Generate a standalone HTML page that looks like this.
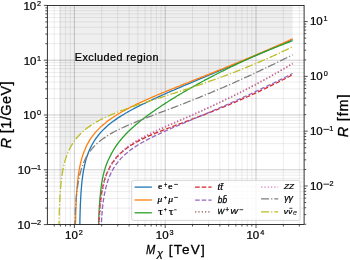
<!DOCTYPE html>
<html><head><meta charset="utf-8"><style>
html,body{margin:0;padding:0;background:#fff;}
svg{display:block;will-change:transform;font-family:"Liberation Sans",sans-serif;}
</style></head><body>
<svg width="350" height="260" viewBox="0 0 350 260">
<defs><clipPath id="ax"><rect x="47.2" y="5.40" width="257.10" height="219.20"/></clipPath></defs>
<rect width="350" height="260" fill="#fff"/>
<path d="M59.2,224.6 59.2,217.8 59.5,207.5 59.8,200.3 60.1,194.9 60.4,190.5 60.7,186.8 61.0,183.6 61.3,180.8 61.6,178.3 61.9,176.0 62.2,174.0 62.6,172.1 62.9,170.3 63.2,168.7 63.5,167.2 63.8,165.8 64.1,164.5 64.4,163.3 64.7,162.2 65.0,161.1 65.3,160.0 65.6,159.0 65.9,158.1 66.2,157.1 66.5,156.3 66.9,155.4 67.2,154.6 67.5,153.8 67.8,153.1 68.1,152.4 68.4,151.7 68.7,151.0 69.0,150.3 69.3,149.7 69.6,149.1 69.9,148.4 70.2,147.9 70.5,147.3 70.8,146.7 71.2,146.2 71.5,145.6 71.8,145.1 72.1,144.6 72.4,144.1 72.7,143.6 73.0,143.1 73.3,142.6 73.6,142.2 73.9,141.7 74.2,141.3 74.5,140.8 74.8,140.4 75.1,140.0 75.5,139.6 75.8,139.2 76.1,138.8 76.4,138.4 76.7,138.0 77.0,137.7 77.3,137.3 77.6,136.9 77.9,136.6 78.2,136.2 78.5,135.9 78.8,135.6 79.1,135.2 79.4,134.9 79.8,134.6 80.1,134.3 80.4,134.0 80.7,133.7 81.0,133.4 81.3,133.1 81.6,132.8 81.9,132.5 82.2,132.2 82.5,131.9 82.8,131.6 83.1,131.4 83.4,131.1 83.7,130.8 84.1,130.6 84.4,130.3 84.7,130.0 85.0,129.8 85.3,129.5 85.6,129.3 85.9,129.0 86.2,128.8 86.5,128.6 86.8,128.3 87.1,128.1 87.4,127.9 87.7,127.6 88.0,127.4 88.4,127.2 88.7,127.0 89.0,126.7 89.3,126.5 89.6,126.3 89.9,126.1 90.2,125.9 90.5,125.7 90.8,125.5 91.1,125.3 91.4,125.1 91.7,124.9 92.0,124.7 92.3,124.5 92.7,124.3 93.0,124.1 93.3,123.9 93.6,123.7 93.9,123.5 94.2,123.3 94.5,123.1 94.8,122.9 95.1,122.8 95.4,122.6 95.7,122.4 96.0,122.2 96.3,122.0 96.6,121.9 97.0,121.7 97.3,121.5 97.6,121.4 97.9,121.2 98.2,121.0 98.5,120.8 98.8,120.7 99.1,120.5 99.4,120.3 99.7,120.2 100.0,120.0 100.3,119.9 100.6,119.7 100.9,119.5 101.3,119.4 101.6,119.2 101.9,119.1 102.2,118.9 102.5,118.8 102.8,118.6 103.1,118.5 103.4,118.3 103.7,118.2 104.0,118.0 104.3,117.9 104.6,117.7 104.9,117.6 105.2,117.4 105.6,117.3 105.9,117.1 106.2,117.0 106.5,116.9 106.8,116.7 107.1,116.6 107.4,116.4 107.7,116.3 108.0,116.2 108.3,116.0 108.6,115.9 108.9,115.7 109.2,115.6 109.5,115.5 109.9,115.3 110.2,115.2 110.5,115.1 110.8,114.9 111.1,114.8 111.4,114.7 111.7,114.5 112.0,114.4 112.3,114.3 112.6,114.2 112.9,114.0 113.2,113.9 113.5,113.8 113.8,113.6 114.2,113.5 114.5,113.4 114.8,113.3 115.1,113.1 115.4,113.0 115.7,112.9 116.0,112.8 116.3,112.7 116.6,112.5 116.9,112.4 117.2,112.3 117.5,112.2 117.8,112.0 118.1,111.9 118.5,111.8 118.8,111.7 119.1,111.6 119.4,111.4 119.7,111.3 120.0,111.2 120.3,111.1 120.6,111.0 120.9,110.9 121.2,110.7 121.5,110.6 121.8,110.5 122.1,110.4 122.4,110.3 122.8,110.2 123.1,110.1 123.4,109.9 123.7,109.8 124.0,109.7 124.3,109.6 124.6,109.5 124.9,109.4 125.2,109.3 125.5,109.2 125.8,109.0 126.1,108.9 126.4,108.8 126.7,108.7 127.1,108.6 127.4,108.5 127.7,108.4 128.0,108.3 128.3,108.2 128.6,108.1 128.9,107.9 129.2,107.8 129.5,107.7 129.8,107.6 130.1,107.5 130.4,107.3 130.7,107.2 131.0,107.0 131.4,106.9 131.7,106.7 132.0,106.5 132.3,106.4 132.6,106.2 132.9,106.1 133.2,105.9 133.5,105.8 133.8,105.6 134.1,105.5 134.4,105.3 134.7,105.2 135.0,105.0 135.3,104.9 135.7,104.7 136.0,104.6 136.3,104.4 136.6,104.3 136.9,104.2 137.2,104.0 137.5,103.9 137.8,103.7 138.1,103.6 138.4,103.4 138.7,103.3 139.0,103.1 139.3,103.0 139.6,102.8 140.0,102.7 140.3,102.6 140.6,102.4 140.9,102.3 141.2,102.1 141.5,102.0 141.8,101.9 142.1,101.7 142.4,101.6 142.7,101.4 143.0,101.3 143.3,101.2 143.6,101.0 143.9,100.9 144.3,100.7 144.6,100.6 144.9,100.5 145.2,100.3 145.5,100.2 145.8,100.0 146.1,99.9 146.4,99.8 146.7,99.6 147.0,99.5 147.3,99.4 147.6,99.2 147.9,99.1 148.2,99.0 148.6,98.8 148.9,98.7 149.2,98.5 149.5,98.4 149.8,98.3 150.1,98.1 150.4,98.0 150.7,97.9 151.0,97.7 151.3,97.6 151.6,97.5 151.9,97.3 152.2,97.2 152.5,97.1 152.9,96.9 153.2,96.8 153.5,96.7 153.8,96.5 154.1,96.4 154.4,96.3 154.7,96.2 155.0,96.0 155.3,95.9 155.6,95.8 155.9,95.6 156.2,95.5 156.5,95.4 156.8,95.2 157.2,95.1 157.5,95.0 157.8,94.8 158.1,94.7 158.4,94.6 158.7,94.5 159.0,94.3 159.3,94.2 159.6,94.1 159.9,93.9 160.2,93.8 160.5,93.7 160.8,93.6 161.1,93.4 161.5,93.3 161.8,93.2 162.1,93.0 162.4,92.9 162.7,92.8 163.0,92.7 163.3,92.5 163.6,92.4 163.9,92.3 164.2,92.2 164.5,92.0 164.8,91.9 165.1,91.8 165.4,91.6 165.8,91.5 166.1,91.4 166.4,91.3 166.7,91.1 167.0,91.0 167.3,90.9 167.6,90.8 167.9,90.6 168.2,90.5 168.5,90.4 168.8,90.3 169.1,90.1 169.4,90.0 169.7,89.9 170.1,89.8 170.4,89.6 170.7,89.5 171.0,89.4 171.3,89.3 171.6,89.1 171.9,89.0 172.2,88.9 172.5,88.8 172.8,88.6 173.1,88.5 173.4,88.4 173.7,88.3 174.0,88.1 174.4,88.0 174.7,87.9 175.0,87.8 175.3,87.6 175.6,87.5 175.9,87.4 176.2,87.3 176.5,87.1 176.8,87.0 177.1,86.9 177.4,86.8 177.7,86.6 178.0,86.5 178.3,86.4 178.7,86.3 179.0,86.2 179.3,86.0 179.6,85.9 179.9,85.8 180.2,85.7 180.5,85.5 180.8,85.4 181.1,85.3 181.4,85.2 181.7,85.0 182.0,84.9 182.3,84.8 182.6,84.7 183.0,84.5 183.3,84.4 183.6,84.3 183.9,84.2 184.2,84.1 184.5,83.9 184.8,83.8 185.1,83.7 185.4,83.6 185.7,83.4 186.0,83.3 186.3,83.2 186.6,83.1 186.9,83.0 187.3,82.8 187.6,82.7 187.9,82.6 188.2,82.5 188.5,82.3 188.8,82.2 189.1,82.1 189.4,82.0 189.7,81.9 190.0,81.7 190.3,81.6 190.6,81.5 190.9,81.4 191.2,81.2 191.6,81.1 191.9,81.0 192.2,80.9 192.5,80.7 192.8,80.6 193.1,80.5 193.4,80.4 193.7,80.3 194.0,80.1 194.3,80.0 194.6,79.9 194.9,79.8 195.2,79.6 195.5,79.5 195.9,79.4 196.2,79.3 196.5,79.2 196.8,79.0 197.1,78.9 197.4,78.8 197.7,78.7 198.0,78.6 198.3,78.4 198.6,78.3 198.9,78.2 199.2,78.1 199.5,77.9 199.8,77.8 200.2,77.7 200.5,77.6 200.8,77.5 201.1,77.3 201.4,77.2 201.7,77.1 202.0,77.0 202.3,76.8 202.6,76.7 202.9,76.6 203.2,76.5 203.5,76.4 203.8,76.2 204.1,76.1 204.5,76.0 204.8,75.9 205.1,75.7 205.4,75.6 205.7,75.5 206.0,75.4 206.3,75.2 206.6,75.1 206.9,75.0 207.2,74.9 207.5,74.8 207.8,74.6 208.1,74.5 208.4,74.4 208.8,74.3 209.1,74.1 209.4,74.0 209.7,73.9 210.0,73.8 210.3,73.7 210.6,73.5 210.9,73.4 211.2,73.3 211.5,73.2 211.8,73.0 212.1,72.9 212.4,72.8 212.7,72.7 213.1,72.6 213.4,72.4 213.7,72.3 214.0,72.2 214.3,72.1 214.6,71.9 214.9,71.8 215.2,71.7 215.5,71.6 215.8,71.4 216.1,71.3 216.4,71.2 216.7,71.1 217.0,71.0 217.4,70.8 217.7,70.7 218.0,70.6 218.3,70.5 218.6,70.3 218.9,70.2 219.2,70.1 219.5,70.0 219.8,69.8 220.1,69.7 220.4,69.6 220.7,69.5 221.0,69.3 221.3,69.2 221.7,69.1 222.0,69.0 222.3,68.9 222.6,68.7 222.9,68.6 223.2,68.5 223.5,68.4 223.8,68.2 224.1,68.1 224.4,68.0 224.7,67.9 225.0,67.7 225.3,67.6 225.6,67.5 226.0,67.4 226.3,67.2 226.6,67.1 226.9,67.0 227.2,66.9 227.5,66.7 227.8,66.6 228.1,66.5 228.4,66.4 228.7,66.2 229.0,66.1 229.3,66.0 229.6,65.9 229.9,65.7 230.3,65.6 230.6,65.5 230.9,65.4 231.2,65.2 231.5,65.1 231.8,65.0 232.1,64.9 232.4,64.7 232.7,64.6 233.0,64.5 233.3,64.4 233.6,64.2 233.9,64.1 234.2,64.0 234.6,63.9 234.9,63.7 235.2,63.6 235.5,63.5 235.8,63.4 236.1,63.2 236.4,63.1 236.7,63.0 237.0,62.9 237.3,62.7 237.6,62.6 237.9,62.5 238.2,62.4 238.5,62.2 238.9,62.1 239.2,62.0 239.5,61.8 239.8,61.7 240.1,61.6 240.4,61.5 240.7,61.3 241.0,61.2 241.3,61.1 241.6,61.0 241.9,60.8 242.2,60.7 242.5,60.6 242.8,60.5 243.2,60.3 243.5,60.2 243.8,60.1 244.1,59.9 244.4,59.8 244.7,59.7 245.0,59.6 245.3,59.4 245.6,59.3 245.9,59.2 246.2,59.0 246.5,58.9 246.8,58.8 247.1,58.7 247.5,58.5 247.8,58.4 248.1,58.3 248.4,58.2 248.7,58.0 249.0,57.9 249.3,57.8 249.6,57.6 249.9,57.5 250.2,57.4 250.5,57.3 250.8,57.1 251.1,57.0 251.4,56.9 251.8,56.7 252.1,56.6 252.4,56.5 252.7,56.3 253.0,56.2 253.3,56.1 253.6,56.0 253.9,55.8 254.2,55.7 254.5,55.6 254.8,55.4 255.1,55.3 255.4,55.2 255.7,55.0 256.1,54.9 256.4,54.8 256.7,54.7 257.0,54.5 257.3,54.4 257.6,54.3 257.9,54.1 258.2,54.0 258.5,53.9 258.8,53.7 259.1,53.6 259.4,53.5 259.7,53.3 260.0,53.2 260.4,53.1 260.7,53.0 261.0,52.8 261.3,52.7 261.6,52.6 261.9,52.4 262.2,52.3 262.5,52.2 262.8,52.0 263.1,51.9 263.4,51.8 263.7,51.6 264.0,51.5 264.3,51.4 264.7,51.2 265.0,51.1 265.3,51.0 265.6,50.8 265.9,50.7 266.2,50.6 266.5,50.4 266.8,50.3 267.1,50.2 267.4,50.0 267.7,49.9 268.0,49.8 268.3,49.6 268.6,49.5 269.0,49.4 269.3,49.2 269.6,49.1 269.9,49.0 270.2,48.8 270.5,48.7 270.8,48.6 271.1,48.4 271.4,48.3 271.7,48.2 272.0,48.0 272.3,47.9 272.6,47.8 272.9,47.6 273.3,47.5 273.6,47.4 273.9,47.2 274.2,47.1 274.5,46.9 274.8,46.8 275.1,46.7 275.4,46.5 275.7,46.4 276.0,46.3 276.3,46.1 276.6,46.0 276.9,45.9 277.2,45.7 277.6,45.6 277.9,45.5 278.2,45.3 278.5,45.2 278.8,45.0 279.1,44.9 279.4,44.8 279.7,44.6 280.0,44.5 280.3,44.4 280.6,44.2 280.9,44.1 281.2,43.9 281.5,43.8 281.9,43.7 282.2,43.5 282.5,43.4 282.8,43.3 283.1,43.1 283.4,43.0 283.7,42.8 284.0,42.7 284.3,42.6 284.6,42.4 284.9,42.3 285.2,42.1 285.5,42.0 285.8,41.9 286.2,41.7 286.5,41.6 286.8,41.4 287.1,41.3 287.4,41.2 287.7,41.0 288.0,40.9 288.3,40.7 288.6,40.6 288.9,40.5 289.2,40.3 289.5,40.2 289.8,40.0 290.1,39.9 290.5,39.8 290.8,39.6 291.1,39.5 291.4,39.3 291.7,39.2 292.0,39.1 292.3,38.9 292.6,38.8 292.6,5.4 59.2,5.4Z" fill="#efefef"/>
<path d="M54.26,5.40V224.60M60.33,5.40V224.60M65.60,5.40V224.60M70.25,5.40V224.60M101.73,5.40V224.60M117.72,5.40V224.60M129.07,5.40V224.60M137.87,5.40V224.60M145.06,5.40V224.60M151.13,5.40V224.60M156.40,5.40V224.60M161.05,5.40V224.60M192.53,5.40V224.60M208.52,5.40V224.60M219.87,5.40V224.60M228.67,5.40V224.60M235.86,5.40V224.60M241.93,5.40V224.60M247.20,5.40V224.60M251.85,5.40V224.60M283.33,5.40V224.60M299.32,5.40V224.60M47.20,208.10H304.30M47.20,198.45H304.30M47.20,191.61H304.30M47.20,186.30H304.30M47.20,181.96H304.30M47.20,178.29H304.30M47.20,175.11H304.30M47.20,172.31H304.30M47.20,153.30H304.30M47.20,143.65H304.30M47.20,136.81H304.30M47.20,131.50H304.30M47.20,127.16H304.30M47.20,123.49H304.30M47.20,120.31H304.30M47.20,117.51H304.30M47.20,98.50H304.30M47.20,88.85H304.30M47.20,82.01H304.30M47.20,76.70H304.30M47.20,72.36H304.30M47.20,68.69H304.30M47.20,65.51H304.30M47.20,62.71H304.30M47.20,43.70H304.30M47.20,34.05H304.30M47.20,27.21H304.30M47.20,21.90H304.30M47.20,17.56H304.30M47.20,13.89H304.30M47.20,10.71H304.30M47.20,7.91H304.30" stroke="rgba(0,0,0,0.075)" stroke-width="1" fill="none"/><path d="M74.40,5.40V224.60M165.20,5.40V224.60M256.00,5.40V224.60M47.20,169.80H304.30M47.20,115.00H304.30M47.20,60.20H304.30" stroke="rgba(0,0,0,0.2)" stroke-width="1" fill="none"/>
<g clip-path="url(#ax)" fill="none" stroke-width="1.3" stroke-linejoin="round">
<path d="M79.8,228.6 79.8,226.7 79.8,224.8 79.9,222.9 79.9,221.0 79.9,219.1 80.0,217.2 80.0,215.3 80.1,213.4 80.1,211.5 80.2,209.6 80.3,207.7 80.3,205.9 80.4,204.0 80.5,202.1 80.6,200.2 80.7,198.3 80.8,196.4 80.9,194.5 81.0,192.6 81.2,190.7 81.3,188.8 81.5,186.9 81.6,185.1 81.8,183.2 82.0,181.3 82.2,179.4 82.5,177.5 82.7,175.6 83.0,173.8 83.3,171.9 83.6,170.0 84.0,168.1 84.4,166.3 84.8,164.4 85.2,162.6 85.7,160.7 86.2,158.9 86.8,157.0 87.4,155.2 88.2,153.0 88.7,151.8 89.2,150.6 89.7,149.5 90.6,147.4 91.6,145.5 92.6,143.7 93.6,142.0 94.6,140.4 95.5,139.0 96.5,137.6 97.5,136.3 98.5,135.0 99.5,133.8 100.4,132.7 101.4,131.6 102.4,130.6 103.4,129.6 104.4,128.7 105.4,127.7 106.3,126.8 107.3,126.0 108.3,125.1 109.3,124.3 110.3,123.5 111.2,122.8 112.2,122.0 113.2,121.3 114.2,120.6 115.2,119.9 116.6,118.9 118.1,117.9 119.6,116.9 121.0,116.0 122.5,115.1 124.0,114.2 125.4,113.3 126.9,112.5 128.4,111.6 129.9,110.8 131.3,110.0 132.8,109.2 134.3,108.4 135.7,107.7 137.2,106.9 138.7,106.2 140.2,105.4 141.6,104.7 143.1,104.0 144.6,103.3 146.0,102.6 147.5,101.8 149.0,101.2 150.4,100.5 151.9,99.8 153.4,99.1 154.9,98.4 156.3,97.8 157.8,97.1 159.3,96.4 160.7,95.8 162.2,95.1 163.7,94.5 165.2,93.8 166.6,93.2 168.1,92.5 169.6,91.9 171.0,91.2 172.5,90.6 174.0,90.0 175.4,89.3 176.9,88.7 178.4,88.1 179.9,87.4 181.3,86.8 182.8,86.2 184.3,85.5 185.7,84.9 187.2,84.3 188.7,83.7 190.2,83.1 191.6,82.4 193.1,81.8 194.6,81.2 196.0,80.6 197.5,79.9 199.0,79.3 200.4,78.7 201.9,78.1 203.4,77.5 204.9,76.9 206.3,76.2 207.8,75.6 209.3,75.0 210.7,74.4 212.2,73.8 213.7,73.2 215.2,72.5 216.6,71.9 218.1,71.3 219.6,70.7 221.0,70.1 222.5,69.5 224.0,68.8 225.4,68.2 226.9,67.6 228.4,67.0 229.9,66.4 231.3,65.7 232.8,65.1 234.3,64.5 235.7,63.9 237.2,63.3 238.7,62.7 240.2,62.0 241.6,61.4 243.1,60.8 244.6,60.2 246.0,59.6 247.5,58.9 249.0,58.3 250.4,57.7 251.9,57.1 253.4,56.4 254.9,55.8 256.3,55.2 257.8,54.6 259.3,53.9 260.7,53.3 262.2,52.7 263.7,52.1 265.1,51.4 266.6,50.8 268.1,50.2 269.6,49.5 271.0,48.9 272.5,48.3 274.0,47.6 275.4,47.0 276.9,46.4 278.4,45.7 279.9,45.1 281.3,44.5 282.8,43.8 284.3,43.2 285.7,42.5 287.2,41.9 288.7,41.3 290.1,40.6 291.6,40.0 292.6,39.6" stroke="#1f77b4"/><path d="M75.5,227.7 75.5,225.8 75.5,223.9 75.6,222.0 75.6,220.1 75.7,218.2 75.7,216.3 75.7,214.4 75.8,212.5 75.9,210.6 75.9,208.7 76.0,206.8 76.0,204.9 76.1,203.0 76.2,201.1 76.3,199.2 76.4,197.3 76.5,195.4 76.6,193.6 76.7,191.7 76.9,189.8 77.0,187.9 77.2,186.0 77.4,184.1 77.5,182.2 77.7,180.4 78.0,178.5 78.2,176.6 78.4,174.7 78.7,172.8 79.0,171.0 79.3,169.1 79.7,167.2 80.1,165.3 80.5,163.5 80.9,161.6 81.4,159.8 81.9,157.9 82.5,156.1 83.1,154.2 83.8,152.4 84.3,151.1 84.8,149.9 85.3,148.7 85.7,147.6 86.7,145.5 87.7,143.6 88.7,141.9 89.7,140.2 90.6,138.7 91.6,137.3 92.6,135.9 93.6,134.6 94.6,133.4 95.5,132.2 96.5,131.1 97.5,130.1 98.5,129.1 99.5,128.1 100.4,127.1 101.4,126.2 102.4,125.4 103.4,124.5 104.4,123.7 105.4,122.9 106.3,122.1 107.3,121.3 108.3,120.6 109.3,119.9 110.3,119.2 111.7,118.2 113.2,117.2 114.7,116.2 116.1,115.3 117.6,114.4 119.1,113.5 120.5,112.7 122.0,111.8 123.5,111.0 125.0,110.2 126.4,109.4 127.9,108.6 129.4,107.9 130.8,107.1 132.3,106.4 133.8,105.7 135.3,104.9 136.7,104.2 138.2,103.5 139.7,102.8 141.1,102.2 142.6,101.5 144.1,100.8 145.5,100.2 147.0,99.5 148.5,98.8 150.0,98.2 151.4,97.6 152.9,96.9 154.4,96.3 155.8,95.7 157.3,95.0 158.8,94.4 160.3,93.8 161.7,93.2 163.2,92.6 164.7,92.0 166.1,91.4 167.6,90.8 169.1,90.2 170.5,89.6 172.0,89.0 173.5,88.4 175.0,87.8 176.4,87.2 177.9,86.6 179.4,86.0 180.8,85.4 182.3,84.8 183.8,84.2 185.3,83.6 186.7,83.0 188.2,82.5 189.7,81.9 191.1,81.3 192.6,80.7 194.1,80.1 195.5,79.5 197.0,78.9 198.5,78.4 200.0,77.8 201.4,77.2 202.9,76.6 204.4,76.0 205.8,75.4 207.3,74.8 208.8,74.3 210.2,73.7 211.7,73.1 213.2,72.5 214.7,71.9 216.1,71.3 217.6,70.7 219.1,70.1 220.5,69.5 222.0,69.0 223.5,68.4 225.0,67.8 226.4,67.2 227.9,66.6 229.4,66.0 230.8,65.4 232.3,64.8 233.8,64.2 235.2,63.6 236.7,63.0 238.2,62.4 239.7,61.8 241.1,61.2 242.6,60.6 244.1,59.9 245.5,59.3 247.0,58.7 248.5,58.1 250.0,57.5 251.4,56.9 252.9,56.3 254.4,55.6 255.8,55.0 257.3,54.4 258.8,53.8 260.2,53.1 261.7,52.5 263.2,51.9 264.7,51.2 266.1,50.6 267.6,50.0 269.1,49.3 270.5,48.7 272.0,48.0 273.5,47.4 275.0,46.7 276.4,46.1 277.9,45.4 279.4,44.8 280.8,44.1 282.3,43.5 283.8,42.8 285.2,42.1 286.7,41.5 288.2,40.8 289.7,40.1 291.1,39.4 292.6,38.8 292.6,38.8" stroke="#ff7f0e"/><path d="M98.5,228.3 98.6,226.4 98.6,224.5 98.7,222.6 98.7,220.7 98.8,218.8 98.9,216.9 98.9,215.0 99.0,213.1 99.1,211.2 99.2,209.3 99.3,207.4 99.4,205.5 99.6,203.6 99.7,201.7 99.8,199.8 100.0,197.9 100.2,195.9 100.4,194.0 100.6,192.1 100.8,190.2 101.0,188.3 101.3,186.4 101.5,184.5 101.8,182.6 102.2,180.6 102.5,178.7 102.9,176.8 103.3,174.9 103.8,173.1 104.2,171.3 104.8,169.5 105.3,167.7 105.9,165.9 106.8,163.5 107.3,162.3 107.8,161.1 108.3,160.0 109.3,158.0 110.3,156.0 111.2,154.1 112.2,152.3 113.2,150.5 114.2,148.9 115.2,147.4 116.1,145.9 117.1,144.5 118.1,143.2 119.1,141.9 120.1,140.7 121.0,139.5 122.0,138.3 123.0,137.2 124.0,136.1 125.0,135.0 125.9,134.0 126.9,133.0 127.9,132.0 128.9,131.0 129.9,130.1 130.8,129.2 131.8,128.3 132.8,127.4 133.8,126.5 134.8,125.7 135.7,124.8 136.7,124.0 137.7,123.2 138.7,122.4 139.7,121.6 140.6,120.8 141.6,120.0 142.6,119.2 143.6,118.5 144.6,117.7 145.5,117.0 146.5,116.3 147.5,115.5 148.5,114.8 149.5,114.1 150.4,113.4 151.4,112.7 152.4,112.0 153.9,111.0 155.3,110.0 156.8,108.9 158.3,108.0 159.8,107.0 161.2,106.0 162.7,105.0 164.2,104.1 165.6,103.1 167.1,102.2 168.6,101.2 170.1,100.3 171.5,99.4 173.0,98.5 174.5,97.6 175.9,96.7 177.4,95.8 178.9,94.9 180.3,94.0 181.8,93.2 183.3,92.3 184.8,91.4 186.2,90.6 187.7,89.7 189.2,88.9 190.6,88.1 192.1,87.2 193.6,86.4 195.1,85.6 196.5,84.7 198.0,83.9 199.5,83.1 200.9,82.3 202.4,81.5 203.9,80.7 205.3,79.9 206.8,79.2 208.3,78.4 209.8,77.6 211.2,76.8 212.7,76.1 214.2,75.3 215.6,74.5 217.1,73.8 218.6,73.0 220.1,72.3 221.5,71.5 223.0,70.8 224.5,70.1 225.9,69.4 227.4,68.6 228.9,67.9 230.3,67.2 231.8,66.5 233.3,65.8 234.8,65.1 236.2,64.4 237.7,63.7 239.2,63.0 240.6,62.3 242.1,61.6 243.6,61.0 245.1,60.3 246.5,59.6 248.0,59.0 249.5,58.3 250.9,57.6 252.4,57.0 253.9,56.3 255.3,55.7 256.8,55.1 258.3,54.4 259.8,53.8 261.2,53.2 262.7,52.6 264.2,51.9 265.6,51.3 267.1,50.7 268.6,50.1 270.1,49.5 271.5,48.9 273.0,48.3 274.5,47.7 275.9,47.2 277.4,46.6 278.9,46.0 280.3,45.4 281.8,44.9 283.3,44.3 284.8,43.7 286.2,43.2 287.7,42.6 289.2,42.1 290.6,41.5 292.1,41.0 292.6,40.8" stroke="#2ca02c"/><path d="M98.7,227.9 98.8,226.0 98.8,224.1 98.9,222.3 99.0,220.4 99.1,218.5 99.2,216.6 99.3,214.7 99.5,212.8 99.6,211.0 99.7,209.1 99.9,207.2 100.1,205.4 100.3,203.5 100.5,201.6 100.7,199.8 100.9,197.9 101.2,196.0 101.4,194.2 101.7,192.3 102.1,190.5 102.4,188.7 102.8,186.8 103.2,185.0 103.7,183.2 104.1,181.4 104.7,179.6 105.2,177.8 105.8,176.0 106.3,174.7 106.8,173.4 107.3,172.2 107.8,171.1 108.8,169.0 109.8,167.2 110.7,165.4 111.7,163.8 112.7,162.3 113.7,161.0 114.7,159.7 115.6,158.4 116.6,157.3 117.6,156.2 118.6,155.2 119.6,154.2 120.5,153.3 121.5,152.4 122.5,151.5 123.5,150.7 124.5,149.9 125.4,149.2 126.4,148.4 127.4,147.7 128.9,146.7 130.4,145.7 131.8,144.8 133.3,143.9 134.8,143.0 136.2,142.2 137.7,141.4 139.2,140.6 140.6,139.9 142.1,139.1 143.6,138.4 145.1,137.7 146.5,137.0 148.0,136.4 149.5,135.7 150.9,135.1 152.4,134.5 153.9,133.8 155.3,133.2 156.8,132.6 158.3,132.0 159.8,131.4 161.2,130.9 162.7,130.3 164.2,129.7 165.6,129.1 167.1,128.6 168.6,128.0 170.1,127.5 171.5,126.9 173.0,126.3 174.5,125.8 175.9,125.2 177.4,124.7 178.9,124.1 180.3,123.6 181.8,123.1 183.3,122.5 184.8,122.0 186.2,121.4 187.7,120.9 189.2,120.3 190.6,119.8 192.1,119.2 193.6,118.7 195.1,118.1 196.5,117.6 198.0,117.0 199.5,116.4 200.9,115.9 202.4,115.3 203.9,114.8 205.3,114.2 206.8,113.6 208.3,113.1 209.8,112.5 211.2,111.9 212.7,111.3 214.2,110.7 215.6,110.2 217.1,109.6 218.6,109.0 220.1,108.4 221.5,107.8 223.0,107.2 224.5,106.6 225.9,106.0 227.4,105.4 228.9,104.8 230.3,104.1 231.8,103.5 233.3,102.9 234.8,102.3 236.2,101.7 237.7,101.0 239.2,100.4 240.6,99.7 242.1,99.1 243.6,98.4 245.1,97.8 246.5,97.1 248.0,96.5 249.5,95.8 250.9,95.2 252.4,94.5 253.9,93.8 255.3,93.1 256.8,92.5 258.3,91.8 259.8,91.1 261.2,90.4 262.7,89.7 264.2,89.0 265.6,88.3 267.1,87.6 268.6,86.9 270.1,86.1 271.5,85.4 273.0,84.7 274.5,84.0 275.9,83.2 277.4,82.5 278.9,81.8 280.3,81.0 281.8,80.3 283.3,79.5 284.8,78.8 286.2,78.0 287.7,77.2 289.2,76.5 290.6,75.7 292.1,74.9 292.6,74.6" stroke="#d62728" stroke-dasharray="4.6,2"/><path d="M101.1,228.7 101.2,226.8 101.3,225.0 101.4,223.1 101.5,221.2 101.6,219.3 101.7,217.4 101.9,215.5 102.0,213.6 102.2,211.8 102.3,209.9 102.5,208.0 102.7,206.1 102.9,204.3 103.2,202.4 103.4,200.5 103.7,198.7 104.0,196.8 104.3,194.9 104.7,193.1 105.1,191.2 105.5,189.4 105.9,187.5 106.4,185.7 106.9,183.8 107.5,182.0 108.1,180.1 108.8,178.3 109.3,177.0 109.8,175.8 110.3,174.7 111.2,172.6 112.2,170.7 113.2,168.9 114.2,167.3 115.2,165.8 116.1,164.4 117.1,163.1 118.1,161.8 119.1,160.6 120.1,159.5 121.0,158.4 122.0,157.4 123.0,156.4 124.0,155.5 125.0,154.6 125.9,153.7 126.9,152.9 127.9,152.1 128.9,151.3 129.9,150.5 130.8,149.8 131.8,149.1 132.8,148.4 134.3,147.4 135.7,146.4 137.2,145.5 138.7,144.5 140.2,143.7 141.6,142.8 143.1,142.0 144.6,141.1 146.0,140.4 147.5,139.6 149.0,138.8 150.4,138.1 151.9,137.3 153.4,136.6 154.9,135.9 156.3,135.2 157.8,134.5 159.3,133.8 160.7,133.1 162.2,132.4 163.7,131.8 165.2,131.1 166.6,130.5 168.1,129.8 169.6,129.2 171.0,128.5 172.5,127.9 174.0,127.2 175.4,126.6 176.9,126.0 178.4,125.4 179.9,124.7 181.3,124.1 182.8,123.5 184.3,122.9 185.7,122.2 187.2,121.6 188.7,121.0 190.2,120.4 191.6,119.7 193.1,119.1 194.6,118.5 196.0,117.9 197.5,117.3 199.0,116.6 200.4,116.0 201.9,115.4 203.4,114.8 204.9,114.1 206.3,113.5 207.8,112.9 209.3,112.3 210.7,111.6 212.2,111.0 213.7,110.4 215.2,109.7 216.6,109.1 218.1,108.5 219.6,107.8 221.0,107.2 222.5,106.5 224.0,105.9 225.4,105.3 226.9,104.6 228.4,104.0 229.9,103.3 231.3,102.7 232.8,102.0 234.3,101.3 235.7,100.7 237.2,100.0 238.7,99.4 240.2,98.7 241.6,98.0 243.1,97.4 244.6,96.7 246.0,96.0 247.5,95.3 249.0,94.7 250.4,94.0 251.9,93.3 253.4,92.6 254.9,91.9 256.3,91.2 257.8,90.5 259.3,89.8 260.7,89.1 262.2,88.4 263.7,87.7 265.1,87.0 266.6,86.3 268.1,85.6 269.6,84.9 271.0,84.2 272.5,83.5 274.0,82.8 275.4,82.1 276.9,81.3 278.4,80.6 279.9,79.9 281.3,79.2 282.8,78.4 284.3,77.7 285.7,77.0 287.2,76.2 288.7,75.5 290.1,74.7 291.6,74.0 292.6,73.5" stroke="#9467bd" stroke-dasharray="4.6,2"/><path d="M99.0,228.3 99.0,226.4 99.1,224.5 99.2,222.6 99.3,220.7 99.4,218.8 99.5,216.9 99.6,215.1 99.7,213.2 99.9,211.3 100.0,209.4 100.2,207.5 100.3,205.7 100.5,203.8 100.7,201.9 100.9,200.1 101.2,198.2 101.4,196.3 101.7,194.5 102.0,192.6 102.3,190.8 102.7,188.9 103.1,187.1 103.5,185.2 103.9,183.4 104.4,181.6 104.9,179.8 105.5,178.0 106.1,176.2 106.8,174.3 107.3,173.0 107.8,171.9 108.3,170.8 109.3,168.8 110.3,166.9 111.2,165.2 112.2,163.5 113.2,162.1 114.2,160.7 115.2,159.3 116.1,158.1 117.1,156.9 118.1,155.8 119.1,154.8 120.1,153.8 121.0,152.8 122.0,151.9 123.0,151.0 124.0,150.1 125.0,149.3 125.9,148.5 126.9,147.8 127.9,147.0 128.9,146.3 129.9,145.6 131.3,144.6 132.8,143.6 134.3,142.6 135.7,141.7 137.2,140.8 138.7,140.0 140.2,139.1 141.6,138.3 143.1,137.5 144.6,136.8 146.0,136.0 147.5,135.2 149.0,134.5 150.4,133.8 151.9,133.1 153.4,132.4 154.9,131.7 156.3,131.0 157.8,130.3 159.3,129.6 160.7,129.0 162.2,128.3 163.7,127.6 165.2,127.0 166.6,126.3 168.1,125.7 169.6,125.0 171.0,124.4 172.5,123.7 174.0,123.1 175.4,122.5 176.9,121.8 178.4,121.2 179.9,120.5 181.3,119.9 182.8,119.3 184.3,118.6 185.7,118.0 187.2,117.4 188.7,116.7 190.2,116.1 191.6,115.4 193.1,114.8 194.6,114.1 196.0,113.5 197.5,112.8 199.0,112.2 200.4,111.5 201.9,110.9 203.4,110.2 204.9,109.5 206.3,108.9 207.8,108.2 209.3,107.5 210.7,106.9 212.2,106.2 213.7,105.5 215.2,104.8 216.6,104.1 218.1,103.4 219.6,102.7 221.0,102.0 222.5,101.3 224.0,100.6 225.4,99.9 226.9,99.2 228.4,98.5 229.9,97.8 231.3,97.1 232.8,96.4 234.3,95.6 235.7,94.9 237.2,94.2 238.7,93.4 240.2,92.7 241.6,91.9 243.1,91.2 244.6,90.4 246.0,89.7 247.5,88.9 249.0,88.2 250.4,87.4 251.9,86.6 253.4,85.8 254.9,85.1 256.3,84.3 257.8,83.5 259.3,82.7 260.7,81.9 262.2,81.1 263.7,80.3 265.1,79.5 266.6,78.7 268.1,77.9 269.6,77.1 271.0,76.2 272.5,75.4 274.0,74.6 275.4,73.8 276.9,72.9 278.4,72.1 279.9,71.2 281.3,70.4 282.8,69.5 284.3,68.7 285.7,67.8 287.2,67.0 288.7,66.1 290.1,65.2 291.6,64.3 292.6,63.8" stroke="#8c564b" stroke-dasharray="1.25,2.05"/><path d="M99.0,227.7 99.0,225.8 99.1,223.9 99.2,222.0 99.3,220.1 99.4,218.2 99.5,216.3 99.6,214.5 99.7,212.6 99.9,210.7 100.0,208.8 100.2,206.9 100.3,205.1 100.5,203.2 100.7,201.3 100.9,199.5 101.2,197.6 101.4,195.7 101.7,193.9 102.0,192.0 102.3,190.2 102.7,188.3 103.1,186.5 103.5,184.6 103.9,182.8 104.4,181.0 104.9,179.2 105.5,177.4 106.1,175.6 106.8,173.7 107.3,172.4 107.8,171.3 108.3,170.2 109.3,168.2 110.3,166.3 111.2,164.6 112.2,162.9 113.2,161.5 114.2,160.1 115.2,158.7 116.1,157.5 117.1,156.3 118.1,155.2 119.1,154.2 120.1,153.2 121.0,152.2 122.0,151.3 123.0,150.4 124.0,149.5 125.0,148.7 125.9,147.9 126.9,147.2 127.9,146.4 128.9,145.7 129.9,145.0 131.3,144.0 132.8,143.0 134.3,142.0 135.7,141.1 137.2,140.2 138.7,139.4 140.2,138.5 141.6,137.7 143.1,136.9 144.6,136.2 146.0,135.4 147.5,134.6 149.0,133.9 150.4,133.2 151.9,132.5 153.4,131.8 154.9,131.1 156.3,130.4 157.8,129.7 159.3,129.0 160.7,128.4 162.2,127.7 163.7,127.0 165.2,126.4 166.6,125.7 168.1,125.1 169.6,124.4 171.0,123.8 172.5,123.1 174.0,122.5 175.4,121.9 176.9,121.2 178.4,120.6 179.9,119.9 181.3,119.3 182.8,118.7 184.3,118.0 185.7,117.4 187.2,116.8 188.7,116.1 190.2,115.5 191.6,114.8 193.1,114.2 194.6,113.5 196.0,112.9 197.5,112.2 199.0,111.6 200.4,110.9 201.9,110.3 203.4,109.6 204.9,108.9 206.3,108.3 207.8,107.6 209.3,106.9 210.7,106.3 212.2,105.6 213.7,104.9 215.2,104.2 216.6,103.5 218.1,102.8 219.6,102.1 221.0,101.4 222.5,100.7 224.0,100.0 225.4,99.3 226.9,98.6 228.4,97.9 229.9,97.2 231.3,96.5 232.8,95.8 234.3,95.0 235.7,94.3 237.2,93.6 238.7,92.8 240.2,92.1 241.6,91.3 243.1,90.6 244.6,89.8 246.0,89.1 247.5,88.3 249.0,87.6 250.4,86.8 251.9,86.0 253.4,85.2 254.9,84.5 256.3,83.7 257.8,82.9 259.3,82.1 260.7,81.3 262.2,80.5 263.7,79.7 265.1,78.9 266.6,78.1 268.1,77.3 269.6,76.5 271.0,75.6 272.5,74.8 274.0,74.0 275.4,73.2 276.9,72.3 278.4,71.5 279.9,70.6 281.3,69.8 282.8,68.9 284.3,68.1 285.7,67.2 287.2,66.4 288.7,65.5 290.1,64.6 291.6,63.7 292.6,63.2" stroke="#e377c2" stroke-dasharray="1.25,2.05"/><path d="M74.7,228.3 74.8,226.4 74.8,224.5 74.9,222.6 74.9,220.8 75.0,218.9 75.1,217.0 75.2,215.1 75.2,213.2 75.3,211.3 75.4,209.4 75.5,207.6 75.7,205.7 75.8,203.8 75.9,201.9 76.1,200.0 76.2,198.2 76.4,196.3 76.6,194.4 76.8,192.6 77.0,190.7 77.2,188.8 77.5,187.0 77.8,185.1 78.1,183.3 78.4,181.4 78.7,179.6 79.1,177.7 79.5,175.9 80.0,174.0 80.5,172.1 81.0,170.3 81.5,168.4 82.2,166.6 82.8,164.8 83.3,163.5 83.8,162.3 84.3,161.2 85.3,159.1 86.2,157.1 87.2,155.4 88.2,153.9 89.2,152.4 90.2,151.1 91.1,149.8 92.1,148.6 93.1,147.5 94.1,146.4 95.1,145.4 96.0,144.4 97.0,143.5 98.0,142.7 99.0,141.8 100.0,141.0 100.9,140.2 101.9,139.5 102.9,138.8 103.9,138.1 105.4,137.1 106.8,136.1 108.3,135.2 109.8,134.3 111.2,133.4 112.7,132.6 114.2,131.8 115.6,131.0 117.1,130.3 118.6,129.6 120.1,128.8 121.5,128.1 123.0,127.5 124.5,126.8 125.9,126.1 127.4,125.5 128.9,124.9 130.4,124.2 131.8,123.6 133.3,123.0 134.8,122.4 136.2,121.8 137.7,121.2 139.2,120.6 140.6,120.1 142.1,119.5 143.6,118.9 145.1,118.3 146.5,117.8 148.0,117.2 149.5,116.6 150.9,116.1 152.4,115.5 153.9,115.0 155.3,114.4 156.8,113.9 158.3,113.3 159.8,112.7 161.2,112.2 162.7,111.6 164.2,111.1 165.6,110.5 167.1,110.0 168.6,109.4 170.1,108.8 171.5,108.3 173.0,107.7 174.5,107.2 175.9,106.6 177.4,106.0 178.9,105.5 180.3,104.9 181.8,104.3 183.3,103.8 184.8,103.2 186.2,102.6 187.7,102.0 189.2,101.4 190.6,100.9 192.1,100.3 193.6,99.7 195.1,99.1 196.5,98.5 198.0,97.9 199.5,97.3 200.9,96.7 202.4,96.1 203.9,95.5 205.3,94.9 206.8,94.3 208.3,93.7 209.8,93.1 211.2,92.5 212.7,91.9 214.2,91.2 215.6,90.6 217.1,90.0 218.6,89.4 220.1,88.7 221.5,88.1 223.0,87.5 224.5,86.8 225.9,86.2 227.4,85.6 228.9,84.9 230.3,84.3 231.8,83.6 233.3,83.0 234.8,82.3 236.2,81.7 237.7,81.0 239.2,80.3 240.6,79.7 242.1,79.0 243.6,78.3 245.1,77.7 246.5,77.0 248.0,76.3 249.5,75.6 250.9,75.0 252.4,74.3 253.9,73.6 255.3,72.9 256.8,72.2 258.3,71.5 259.8,70.8 261.2,70.1 262.7,69.4 264.2,68.7 265.6,68.0 267.1,67.3 268.6,66.6 270.1,65.9 271.5,65.2 273.0,64.5 274.5,63.8 275.9,63.0 277.4,62.3 278.9,61.6 280.3,60.9 281.8,60.2 283.3,59.4 284.8,58.7 286.2,58.0 287.7,57.2 289.2,56.5 290.6,55.8 292.1,55.0 292.6,54.8" stroke="#7f7f7f" stroke-dasharray="8,2,1.25,2"/><path d="M59.0,228.7 59.0,226.9 59.0,225.0 59.1,223.1 59.1,221.2 59.1,219.3 59.2,217.4 59.2,215.5 59.3,213.6 59.3,211.7 59.4,209.8 59.5,207.9 59.5,206.0 59.6,204.1 59.7,202.3 59.8,200.4 59.9,198.5 60.0,196.6 60.1,194.7 60.2,192.9 60.4,191.0 60.5,189.1 60.7,187.2 60.8,185.4 61.0,183.5 61.2,181.6 61.4,179.8 61.7,177.9 61.9,176.0 62.2,174.2 62.5,172.3 62.8,170.5 63.2,168.7 63.6,166.8 64.0,165.0 64.4,163.2 64.9,161.4 65.4,159.6 66.0,157.9 66.6,156.1 67.1,154.7 67.6,153.5 68.1,152.3 68.6,151.2 69.6,149.2 70.5,147.3 71.5,145.5 72.5,143.9 73.5,142.3 74.5,140.9 75.5,139.6 76.4,138.3 77.4,137.2 78.4,136.1 79.4,135.0 80.4,134.0 81.3,133.0 82.3,132.1 83.3,131.2 84.3,130.4 85.3,129.6 86.2,128.8 87.2,128.0 88.2,127.3 89.2,126.6 90.6,125.6 92.1,124.6 93.6,123.7 95.1,122.8 96.5,121.9 98.0,121.1 99.5,120.3 100.9,119.5 102.4,118.8 103.9,118.1 105.4,117.4 106.8,116.7 108.3,116.0 109.8,115.4 111.2,114.7 112.7,114.1 114.2,113.5 115.6,112.9 117.1,112.3 118.6,111.8 120.1,111.2 121.5,110.6 123.0,110.1 124.5,109.5 125.9,109.0 127.4,108.5 128.9,108.0 130.4,107.4 131.8,106.9 133.3,106.4 134.8,105.9 136.2,105.4 137.7,104.9 139.2,104.4 140.6,103.9 142.1,103.5 143.6,103.0 145.1,102.5 146.5,102.0 148.0,101.5 149.5,101.1 150.9,100.6 152.4,100.1 153.9,99.7 155.3,99.2 156.8,98.7 158.3,98.2 159.8,97.8 161.2,97.3 162.7,96.8 164.2,96.4 165.6,95.9 167.1,95.4 168.6,95.0 170.1,94.5 171.5,94.0 173.0,93.5 174.5,93.1 175.9,92.6 177.4,92.1 178.9,91.6 180.3,91.2 181.8,90.7 183.3,90.2 184.8,89.7 186.2,89.2 187.7,88.8 189.2,88.3 190.6,87.8 192.1,87.3 193.6,86.8 195.1,86.3 196.5,85.8 198.0,85.3 199.5,84.8 200.9,84.3 202.4,83.8 203.9,83.3 205.3,82.8 206.8,82.3 208.3,81.8 209.8,81.2 211.2,80.7 212.7,80.2 214.2,79.7 215.6,79.1 217.1,78.6 218.6,78.1 220.1,77.5 221.5,77.0 223.0,76.5 224.5,75.9 225.9,75.4 227.4,74.8 228.9,74.3 230.3,73.7 231.8,73.1 233.3,72.6 234.8,72.0 236.2,71.4 237.7,70.9 239.2,70.3 240.6,69.7 242.1,69.1 243.6,68.5 245.1,67.9 246.5,67.3 248.0,66.7 249.5,66.1 250.9,65.5 252.4,64.9 253.9,64.3 255.3,63.7 256.8,63.1 258.3,62.4 259.8,61.8 261.2,61.2 262.7,60.5 264.2,59.9 265.6,59.3 267.1,58.6 268.6,57.9 270.1,57.3 271.5,56.6 273.0,56.0 274.5,55.3 275.9,54.6 277.4,53.9 278.9,53.3 280.3,52.6 281.8,51.9 283.3,51.2 284.8,50.5 286.2,49.8 287.7,49.1 289.2,48.3 290.6,47.6 292.1,46.9 292.6,46.7" stroke="#bcbd22" stroke-dasharray="8,2,1.25,2"/>
</g>
<text transform="matrix(0.10844 0 0 0.10319 74.832 60.633)" font-size="100" stroke="#000" stroke-width="2.36"><tspan letter-spacing="3.97">Excluded region</tspan></text>
<rect x="131.7" y="180.3" width="168.4" height="40.1" rx="2" ry="2" fill="rgba(255,255,255,0.8)" stroke="#cccccc" stroke-width="0.8"/><path d="M134.6,187.1H151.9" stroke="#1f77b4" stroke-width="1.3"/><text transform="matrix(0.09459 0 0 0.08750 157.922 189.213)" font-size="100" stroke="#000" stroke-width="2.75"><tspan font-family="Liberation Serif">e</tspan></text><text transform="matrix(0.05957 0 0 0.07660 163.902 186.966)" font-size="100" stroke="#000" stroke-width="3.67"><tspan font-family="Liberation Serif">+</tspan></text><text transform="matrix(0.10270 0 0 0.08750 167.889 189.213)" font-size="100" stroke="#000" stroke-width="2.63"><tspan font-family="Liberation Serif">e</tspan></text><path d="M174.1,184.4H177.9" stroke="#000" stroke-width="0.75"/><path d="M134.6,200.0H151.9" stroke="#ff7f0e" stroke-width="1.3"/><text transform="matrix(0.09574 0 0 0.07761 157.400 201.970)" font-size="100" stroke="#000" stroke-width="2.88"><tspan font-family="Liberation Serif" font-style="italic">μ</tspan></text><text transform="matrix(0.05745 0 0 0.05957 163.813 199.796)" font-size="100" stroke="#000" stroke-width="4.27"><tspan font-family="Liberation Serif">+</tspan></text><text transform="matrix(0.09574 0 0 0.07761 168.200 201.970)" font-size="100" stroke="#000" stroke-width="2.88"><tspan font-family="Liberation Serif" font-style="italic">μ</tspan></text><path d="M174.1,197.4H177.9" stroke="#000" stroke-width="0.75"/><path d="M134.6,212.8H151.9" stroke="#2ca02c" stroke-width="1.3"/><text transform="matrix(0.11389 0 0 0.09362 158.372 214.506)" font-size="100" stroke="#000" stroke-width="2.41"><tspan font-family="Liberation Serif">τ</tspan></text><text transform="matrix(0.05319 0 0 0.06809 163.734 212.481)" font-size="100" stroke="#000" stroke-width="4.12"><tspan font-family="Liberation Serif">+</tspan></text><text transform="matrix(0.11667 0 0 0.09362 168.667 214.506)" font-size="100" stroke="#000" stroke-width="2.38"><tspan font-family="Liberation Serif">τ</tspan></text><path d="M174.1,209.8H176.6" stroke="#000" stroke-width="0.75"/><path d="M195.1,187.1H211.6" stroke="#d62728" stroke-width="1.3" stroke-dasharray="4.6,2"/><text transform="matrix(0.09655 0 0 0.09500 217.517 189.705)" font-size="100" stroke="#000" stroke-width="2.61"><tspan font-style="italic">tt̄</tspan></text><path d="M195.1,200.1H211.6" stroke="#9467bd" stroke-width="1.3" stroke-dasharray="4.6,2"/><text transform="matrix(0.08302 0 0 0.09880 217.834 202.501)" font-size="100" stroke="#000" stroke-width="2.75"><tspan font-style="italic">bb̄</tspan></text><path d="M195.1,211.9H211.6" stroke="#8c564b" stroke-width="1.3" stroke-dasharray="1.25,2.05"/><text transform="matrix(0.07097 0 0 0.07536 217.561 213.800)" font-size="100" stroke="#000" stroke-width="3.42"><tspan font-style="italic">W</tspan></text><text transform="matrix(0.05714 0 0 0.06327 225.514 212.269)" font-size="100" stroke="#000" stroke-width="4.15">+</text><text transform="matrix(0.08172 0 0 0.07536 230.165 213.800)" font-size="100" stroke="#000" stroke-width="3.18"><tspan font-style="italic">W</tspan></text><path d="M239.5,209.7H243.2" stroke="#000" stroke-width="0.75"/><path d="M261.1,187.1H278.2" stroke="#e377c2" stroke-width="1.3" stroke-dasharray="1.25,2.05"/><text transform="matrix(0.08189 0 0 0.07826 283.964 188.700)" font-size="100" stroke="#000" stroke-width="3.12"><tspan font-style="italic">ZZ</tspan></text><path d="M261.1,198.9H278.2" stroke="#7f7f7f" stroke-width="1.3" stroke-dasharray="8,2,1.25,2"/><text transform="matrix(0.08889 0 0 0.08784 284.156 201.055)" font-size="100" stroke="#000" stroke-width="2.83"><tspan font-style="italic">γγ</tspan></text><path d="M261.1,211.9H278.2" stroke="#bcbd22" stroke-width="1.3" stroke-dasharray="8,2,1.25,2"/><text transform="matrix(0.08409 0 0 0.07547 283.780 213.900)" font-size="100" stroke="#000" stroke-width="3.13"><tspan font-style="italic">ν</tspan></text><text transform="matrix(0.07955 0 0 0.07547 288.302 213.900)" font-size="100" stroke="#000" stroke-width="3.23"><tspan font-style="italic">ν</tspan></text><path d="M289.3,208.3H292.4" stroke="#000" stroke-width="0.7"/><text transform="matrix(0.07143 0 0 0.06364 292.886 215.436)" font-size="100"><tspan font-style="italic">e</tspan></text>
<rect x="47.35" y="5.5" width="256.75" height="219.0" fill="none" stroke="#111" stroke-width="0.85"/>
<path d="M54.26,224.60v1.9M60.33,224.60v1.9M65.60,224.60v1.9M70.25,224.60v1.9M74.40,224.60v3.4M101.73,224.60v1.9M117.72,224.60v1.9M129.07,224.60v1.9M137.87,224.60v1.9M145.06,224.60v1.9M151.13,224.60v1.9M156.40,224.60v1.9M161.05,224.60v1.9M165.20,224.60v3.4M192.53,224.60v1.9M208.52,224.60v1.9M219.87,224.60v1.9M228.67,224.60v1.9M235.86,224.60v1.9M241.93,224.60v1.9M247.20,224.60v1.9M251.85,224.60v1.9M256.00,224.60v3.4M283.33,224.60v1.9M299.32,224.60v1.9M43.80,224.60h3.4M45.30,208.10h1.9M45.30,198.45h1.9M45.30,191.61h1.9M45.30,186.30h1.9M45.30,181.96h1.9M45.30,178.29h1.9M45.30,175.11h1.9M45.30,172.31h1.9M43.80,169.80h3.4M45.30,153.30h1.9M45.30,143.65h1.9M45.30,136.81h1.9M45.30,131.50h1.9M45.30,127.16h1.9M45.30,123.49h1.9M45.30,120.31h1.9M45.30,117.51h1.9M43.80,115.00h3.4M45.30,98.50h1.9M45.30,88.85h1.9M45.30,82.01h1.9M45.30,76.70h1.9M45.30,72.36h1.9M45.30,68.69h1.9M45.30,65.51h1.9M45.30,62.71h1.9M43.80,60.20h3.4M45.30,43.70h1.9M45.30,34.05h1.9M45.30,27.21h1.9M45.30,21.90h1.9M45.30,17.56h1.9M45.30,13.89h1.9M45.30,10.71h1.9M45.30,7.91h1.9M43.80,5.40h3.4M304.30,224.28h1.9M304.30,214.63h1.9M304.30,207.78h1.9M304.30,202.47h1.9M304.30,198.13h1.9M304.30,194.47h1.9M304.30,191.29h1.9M304.30,188.48h1.9M304.30,185.98h3.4M304.30,169.48h1.9M304.30,159.83h1.9M304.30,152.98h1.9M304.30,147.67h1.9M304.30,143.33h1.9M304.30,139.67h1.9M304.30,136.49h1.9M304.30,133.68h1.9M304.30,131.18h3.4M304.30,114.68h1.9M304.30,105.03h1.9M304.30,98.18h1.9M304.30,92.87h1.9M304.30,88.53h1.9M304.30,84.87h1.9M304.30,81.69h1.9M304.30,78.88h1.9M304.30,76.38h3.4M304.30,59.88h1.9M304.30,50.23h1.9M304.30,43.38h1.9M304.30,38.07h1.9M304.30,33.73h1.9M304.30,30.07h1.9M304.30,26.89h1.9M304.30,24.08h1.9M304.30,21.58h3.4" stroke="#222" stroke-width="0.8" fill="none"/>
<text transform="matrix(0.11515 0 0 0.11268 23.421 9.787)" font-size="100" stroke="#000" stroke-width="2.19">10</text><text x="37.08" y="5.80" font-size="7.3" stroke="#000" stroke-width="0.2">2</text><text transform="matrix(0.11515 0 0 0.11268 23.640 64.587)" font-size="100" stroke="#000" stroke-width="2.19">10</text><text x="37.08" y="60.60" font-size="7.3" stroke="#000" stroke-width="0.2">1</text><text transform="matrix(0.11515 0 0 0.11268 23.275 119.387)" font-size="100" stroke="#000" stroke-width="2.19">10</text><text x="37.00" y="115.40" font-size="7.3" stroke="#000" stroke-width="0.2">0</text><text transform="matrix(0.11515 0 0 0.11268 17.840 174.187)" font-size="100" stroke="#000" stroke-width="2.19">10</text><path d="M31.26,168.60h5.9" stroke="#000" stroke-width="0.85"/><text x="37.08" y="170.20" font-size="7.3" stroke="#000" stroke-width="0.2">1</text><text transform="matrix(0.11515 0 0 0.11268 17.621 228.987)" font-size="100" stroke="#000" stroke-width="2.19">10</text><path d="M31.04,223.40h5.9" stroke="#000" stroke-width="0.85"/><text x="37.08" y="225.00" font-size="7.3" stroke="#000" stroke-width="0.2">2</text><text transform="matrix(0.11515 0 0 0.11268 65.050 238.687)" font-size="100" stroke="#000" stroke-width="2.19">10</text><text x="78.71" y="234.70" font-size="7.3" stroke="#000" stroke-width="0.2">2</text><text transform="matrix(0.11515 0 0 0.11268 155.813 238.687)" font-size="100" stroke="#000" stroke-width="2.19">10</text><text x="169.54" y="234.70" font-size="7.3" stroke="#000" stroke-width="0.2">3</text><text transform="matrix(0.11515 0 0 0.11268 246.467 238.687)" font-size="100" stroke="#000" stroke-width="2.19">10</text><text x="260.34" y="234.70" font-size="7.3" stroke="#000" stroke-width="0.2">4</text><text transform="matrix(0.11515 0 0 0.11268 309.979 25.364)" font-size="100" stroke="#000" stroke-width="2.19">10</text><text x="323.42" y="21.38" font-size="7.3" stroke="#000" stroke-width="0.2">1</text><text transform="matrix(0.11515 0 0 0.11268 309.979 80.164)" font-size="100" stroke="#000" stroke-width="2.19">10</text><text x="323.71" y="76.18" font-size="7.3" stroke="#000" stroke-width="0.2">0</text><text transform="matrix(0.11515 0 0 0.11268 309.979 134.964)" font-size="100" stroke="#000" stroke-width="2.19">10</text><path d="M323.40,129.38h5.9" stroke="#000" stroke-width="0.85"/><text x="329.22" y="130.98" font-size="7.3" stroke="#000" stroke-width="0.2">1</text><text transform="matrix(0.11515 0 0 0.11268 309.979 189.764)" font-size="100" stroke="#000" stroke-width="2.19">10</text><path d="M323.40,184.18h5.9" stroke="#000" stroke-width="0.85"/><text x="329.43" y="185.78" font-size="7.3" stroke="#000" stroke-width="0.2">2</text>
<text transform="matrix(0.11125 0 0 0.13043 145.966 253.800)" font-size="100" stroke="#000" stroke-width="2.07"><tspan font-style="italic">M</tspan></text><text transform="matrix(0.10952 0 0 0.10000 157.067 256.600)" font-size="100" stroke="#000" stroke-width="2.39"><tspan font-style="italic">χ</tspan></text><text transform="matrix(0.13518 0 0 0.12872 168.754 253.597)" font-size="100" stroke="#000" stroke-width="2.27"><tspan letter-spacing="9.76">[TeV]</tspan></text><text transform="matrix(0 -0.14503 0.13798 0 11.002 148.535)" font-size="100" stroke="#000" stroke-width="2.12"><tspan letter-spacing="3.06"><tspan font-style="italic">R</tspan> [1/GeV]</tspan></text><text transform="matrix(0 -0.14491 0.13830 0 348.496 137.335)" font-size="100" stroke="#000" stroke-width="2.12"><tspan letter-spacing="5.68"><tspan font-style="italic">R</tspan> [fm]</tspan></text>
</svg>
</body></html>
